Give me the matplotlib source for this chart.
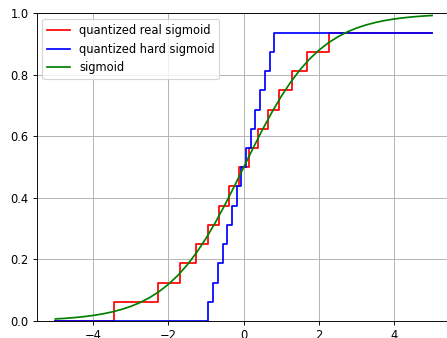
import matplotlib
matplotlib.use("Agg")
import matplotlib.pyplot as plt
import numpy as np

# quantization levels (4 bit, 16 steps)
levels = [0.0, 0.0625, 0.125, 0.1875, 0.25, 0.3125, 0.375, 0.4375,
          0.5, 0.5625, 0.625, 0.6875, 0.75, 0.8125, 0.875, 0.9375]

# x positions where each quantized curve jumps to the next level
real_breaks = [-3.43, -2.27, -1.69, -1.27, -0.94, -0.65, -0.38, -0.13,
               0.13, 0.38, 0.65, 0.94, 1.27, 1.69, 2.27]
hard_breaks = [-0.94, -0.81, -0.69, -0.56, -0.44, -0.31, -0.19, -0.06,
               0.06, 0.19, 0.31, 0.44, 0.56, 0.69, 0.81]

x_start, x_end = -5.0, 5.0

# sigmoid samples
sig_x = [-5.0, -4.75, -4.5, -4.25, -4.0, -3.75, -3.5, -3.25, -3.0, -2.75,
         -2.5, -2.25, -2.0, -1.75, -1.5, -1.25, -1.0, -0.75, -0.5, -0.25,
         0.0, 0.25, 0.5, 0.75, 1.0, 1.25, 1.5, 1.75, 2.0, 2.25,
         2.5, 2.75, 3.0, 3.25, 3.5, 3.75, 4.0, 4.25, 4.5, 4.75, 5.0]
sig_y = [0.0067, 0.0086, 0.0110, 0.0141, 0.0180, 0.0230, 0.0293, 0.0374, 0.0474, 0.0601,
         0.0759, 0.0953, 0.1192, 0.1480, 0.1824, 0.2227, 0.2689, 0.3208, 0.3775, 0.4378,
         0.5, 0.5622, 0.6225, 0.6792, 0.7311, 0.7773, 0.8176, 0.8520, 0.8808, 0.9047,
         0.9241, 0.9399, 0.9526, 0.9626, 0.9707, 0.9770, 0.9820, 0.9859, 0.9890, 0.9914, 0.9933]


def step_xy(breaks):
    xs = [x_start] + breaks + [x_end]
    ys = levels + [levels[-1]]
    return xs, ys


DPI = 83
fig = plt.figure(figsize=(448 / DPI, 338 / DPI), dpi=DPI)
ax = fig.add_axes([0.0815, 0.0503, 0.925, 0.910])

rx, ry = step_xy(real_breaks)
hx, hy = step_xy(hard_breaks)
ax.step(rx, ry, where="post", color="red", lw=1.5, label="quantized real sigmoid")
ax.step(hx, hy, where="post", color="blue", lw=1.5, label="quantized hard sigmoid")
ax.plot(sig_x, sig_y, color="green", lw=1.5, label="sigmoid")

ax.set_xlim(-5.5, 5.5)
ax.set_ylim(0, 1)
ax.set_xticks([-4, -2, 0, 2, 4])
ax.grid(True)
ax.legend(loc="upper left")

fig.savefig("out.png", dpi=DPI)
